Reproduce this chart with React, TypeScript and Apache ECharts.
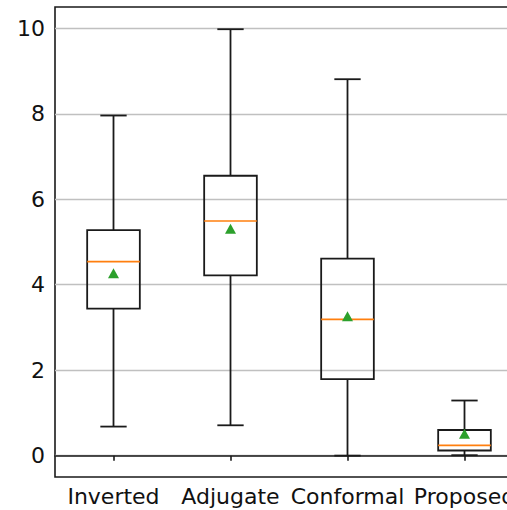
import React, { useEffect, useRef } from 'react';
import * as echarts from 'echarts';

const categories = ['Inverted', 'Adjugate', 'Conformal', 'Proposed'];
const whiskerLow = [0.68, 0.71, 0.0, 0.01];
const q1 = [3.44, 4.22, 1.79, 0.12];
const median = [4.54, 5.49, 3.19, 0.24];
const q3 = [5.28, 6.55, 4.61, 0.6];
const whiskerHigh = [7.96, 9.98, 8.81, 1.29];
const means = [4.27, 5.31, 3.26, 0.51];

const FONT = 'DejaVu Sans';
const LINE = '#1a1a1a';

export default function App() {
  const ref = useRef<HTMLDivElement>(null);
  useEffect(() => {
    if (!ref.current) return;
    const chart = echarts.init(ref.current, undefined, { renderer: 'svg' });
    const boxData = categories.map((_, i) => [i, whiskerLow[i], q1[i], median[i], q3[i], whiskerHigh[i]]);
    const meanData = means.map((m, i) => [i, m]);
    const gridL = 55, gridR = 17;
    chart.setOption({
      animation: false,
      backgroundColor: '#ffffff',
      grid: [
        { left: gridL, right: gridR, top: 28.4, bottom: 54.4, show: false },
        { left: gridL, right: gridR, top: 7, bottom: 33, show: true, borderColor: LINE, borderWidth: 1.6, backgroundColor: 'transparent' },
      ],
      xAxis: [
        { type: 'category', gridIndex: 0, data: categories, show: false },
        {
          type: 'category', gridIndex: 1, data: categories,
          axisLine: { show: true, lineStyle: { color: LINE, width: 1.6 } },
          axisTick: { show: true, alignWithLabel: true, length: 5, lineStyle: { color: LINE, width: 1.6 } },
          axisLabel: { fontSize: 22, fontFamily: FONT, color: '#111', margin: 8, interval: 0 },
          splitLine: { show: false },
        },
      ],
      yAxis: [
        {
          type: 'value', gridIndex: 0, min: 0, max: 10, interval: 2,
          axisLine: { show: false }, axisTick: { show: false },
          axisLabel: { fontSize: 22, fontFamily: FONT, color: '#111', margin: 10 },
          splitLine: { show: true, lineStyle: { color: '#c0c0c0', width: 1.4 } },
        },
        { type: 'value', gridIndex: 1, min: -0.5, max: 10.5, show: false, splitLine: { show: false } },
      ],
      series: [
        {
          type: 'custom', xAxisIndex: 1, yAxisIndex: 1, data: boxData,
          encode: { x: 0, y: [1, 2, 3, 4, 5] },
          renderItem: (params: any, api: any) => {
            const i = api.value(0);
            const band = api.size([1, 0])[0];
            const bw = band * 0.45, cw = band * 0.225;
            const x = api.coord([i, 0])[0];
            const y = (k: number) => api.coord([i, api.value(k)])[1];
            const yLo = y(1), yQ1 = y(2), yMed = y(3), yQ3 = y(4), yHi = y(5);
            const st = { stroke: LINE, lineWidth: 1.8, fill: null };
            return {
              type: 'group',
              children: [
                { type: 'line', shape: { x1: x, y1: yQ1, x2: x, y2: yLo }, style: st },
                { type: 'line', shape: { x1: x, y1: yQ3, x2: x, y2: yHi }, style: st },
                { type: 'line', shape: { x1: x - cw / 2, y1: yLo, x2: x + cw / 2, y2: yLo }, style: st },
                { type: 'line', shape: { x1: x - cw / 2, y1: yHi, x2: x + cw / 2, y2: yHi }, style: st },
                { type: 'rect', shape: { x: x - bw / 2, y: yQ3, width: bw, height: yQ1 - yQ3 }, style: { stroke: LINE, lineWidth: 1.8, fill: 'none' } },
                { type: 'line', shape: { x1: x - bw / 2, y1: yMed, x2: x + bw / 2, y2: yMed }, style: { stroke: '#ff7f0e', lineWidth: 1.6 } },
              ],
            };
          },
          z: 3,
        },
        {
          type: 'scatter', xAxisIndex: 1, yAxisIndex: 1, data: meanData,
          symbol: 'triangle', symbolSize: [11, 10],
          itemStyle: { color: '#2ca02c', opacity: 1 }, z: 4,
        },
      ],
    });
    return () => chart.dispose();
  }, []);
  return (
    <div style={{ position: 'fixed', left: 0, top: 0, width: 507, height: 510, overflow: 'hidden', background: '#fff' }}>
      <div ref={ref} style={{ width: 540, height: 510 }} />
    </div>
  );
}
